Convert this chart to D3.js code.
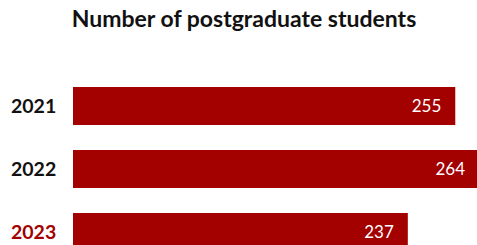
<!DOCTYPE html>
<html>
<head>
<meta charset="utf-8">
<script src="https://cdn.jsdelivr.net/npm/d3@7"></script>
<style>
  body { margin: 0; background: #fff; }
  svg { display: block; font-family: Lato, sans-serif; }
</style>
</head>
<body>
<div id="chart"></div>
<script>
// data
var years = ["2021", "2022", "2023"];
var students = [255, 264, 237];

var width = 477, height = 245;
var barColor = "#a30000";

var svg = d3.select("#chart").append("svg")
  .attr("width", width)
  .attr("height", height);

// title
svg.append("text")
  .attr("x", 244)
  .attr("y", 27)
  .attr("text-anchor", "middle")
  .style("font-size", "23px")
  .style("font-weight", "bold")
  .style("fill", "#111")
  .text("Number of postgraduate students");

// scales (bars don't start at zero in the original)
var x = d3.scaleLinear()
  .domain([110, 264])
  .range([73, 479]);

var y = d3.scaleBand()
  .domain(years)
  .range([87, 251])
  .paddingInner(25 / 63)
  .paddingOuter(0);

var rows = svg.selectAll(".row")
  .data(years)
  .enter()
  .append("g")
  .attr("class", "row");

rows.append("rect")
  .attr("x", x.range()[0])
  .attr("y", function(d) { return y(d); })
  .attr("width", function(d, i) { return x(students[i]) - x.range()[0]; })
  .attr("height", y.bandwidth())
  .style("fill", barColor);

// year labels
rows.append("text")
  .attr("x", 11)
  .attr("y", function(d) { return y(d) + y.bandwidth() / 2; })
  .attr("dy", "0.35em")
  .style("font-size", "19.5px")
  .style("font-weight", "bold")
  .style("fill", function(d, i) { return i == years.length - 1 ? barColor : "#111"; })
  .text(function(d) { return d; });

// value labels
rows.append("text")
  .attr("x", function(d, i) { return x(students[i]) - 14; })
  .attr("y", function(d) { return y(d) + y.bandwidth() / 2; })
  .attr("dy", "0.35em")
  .attr("text-anchor", "end")
  .style("font-size", "17px")
  .style("fill", "#fff")
  .text(function(d, i) { return students[i]; });
</script>
</body>
</html>
